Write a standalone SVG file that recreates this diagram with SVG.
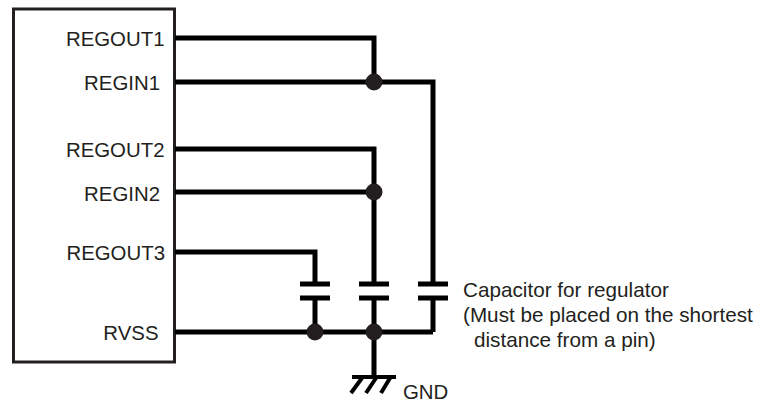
<svg xmlns="http://www.w3.org/2000/svg" width="758" height="403" viewBox="0 0 758 403">
<style>
text{font-family:"Liberation Sans",Arial,sans-serif;font-size:20.4px;fill:#231f20}
.e{text-anchor:end}
.n{font-size:20.7px}
.w{fill:none;stroke:#000;stroke-width:5}
.t{fill:none;stroke:#231f20;stroke-width:3}
.g{fill:none;stroke:#000;stroke-width:4}
.d{fill:#231f20}
</style>
<rect width="758" height="403" fill="#fff"/>
<g id="chip">
<rect class="t" x="13.500" y="9" width="161" height="353"/>
<text class="e" x="164.500" y="46">REGOUT1</text>
<text class="e" x="160" y="89.500">REGIN1</text>
<text class="e" x="164.500" y="157">REGOUT2</text>
<text class="e" x="160" y="200.500">REGIN2</text>
<text class="e" x="165" y="260">REGOUT3</text>
<text class="e" x="158.500" y="340">RVSS</text>
</g>
<g id="connectors">
<path class="w" d="M175 38H374V82M175 82H433V284M175 149H374V284M175 192H374M175 252H315V284"/>
<path class="w" d="M315 298V332M374 298V332M433 298V332M175 332H433M374 332V377"/>
<path class="w" d="M300 284H330M300 298H330M359 284H389M359 298H389M418 284H448M418 298H448"/>
<path class="g" d="M352 377H396M362 378L351 393M376 378L366 393M390 378L381 393"/>
<circle class="d" cx="374" cy="82" r="8.500"/>
<circle class="d" cx="374" cy="192" r="8.500"/>
<circle class="d" cx="315" cy="332" r="8.500"/>
<circle class="d" cx="374" cy="332" r="8.500"/>
</g>
<g id="labels">
<text class="n" x="463" y="296.500">Capacitor for regulator</text>
<text class="n" x="463" y="321.500">(Must be placed on the shortest</text>
<text class="n" x="474" y="346.500">distance from a pin)</text>
<text x="403" y="399">GND</text>
</g>
</svg>
